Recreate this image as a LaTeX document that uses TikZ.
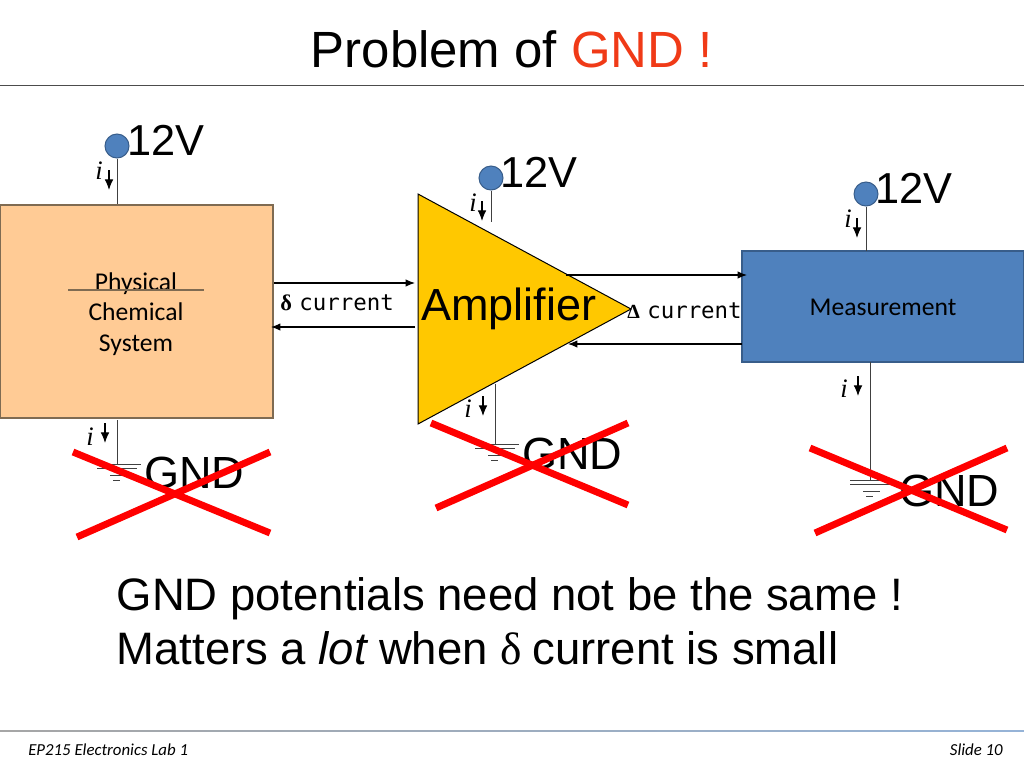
\documentclass[tikz,border=0pt]{standalone}
\usepackage{fontspec}
\setmainfont{Liberation Sans}
\newfontfamily\carlito{Carlito}
\newfontfamily\timesf{Liberation Serif}
\newfontfamily\monof{DejaVu Sans Mono}
\usetikzlibrary{arrows.meta,%
                shapes,positioning}
\definecolor{titlered}{HTML}{F03A17}
\definecolor{sysfill}{HTML}{FFCB95}
\definecolor{sysedge}{HTML}{7F6B52}
\definecolor{measfill}{HTML}{4F81BD}
\definecolor{measedge}{HTML}{385D8A}
\definecolor{ampfill}{HTML}{FFC800}
\tikzset{
  txt/.style={anchor=base west,inner sep=0pt,text=black},
  volt/.style={txt,font=\fontsize{32.5}{32.5}\selectfont},
  gndtxt/.style={txt,font=\fontsize{33.8}{33.8}\selectfont},
  small/.style={anchor=base,inner sep=0pt,font=\carlito\fontsize{19.2}{19.2}\selectfont},
  foot/.style={inner sep=0pt,font=\carlito\itshape\fontsize{12.6}{12.6}\selectfont},
  cur/.style={txt,font=\monof\fontsize{16.8}{16.8}\selectfont},
  isym/.style={inner sep=0pt,font=\timesf\itshape\fontsize{20}{20}\selectfont},
  rail/.style={circle,draw=measedge,fill=measfill,line width=0.75pt,minimum size=18pt,inner sep=0pt},
  wire/.style={draw=black!75,line width=0.75pt},
  sig/.style={draw=black,line width=0.8pt,-{Latex[length=7pt,width=5.5pt]}},
  idir/.style={draw=black,line width=0.8pt,-{Latex[length=8pt,width=6.5pt]}},
  cross/.style={draw=red,line width=5.2pt}
}
\newcommand{\GndSym}[1]{%
  \draw[wire] ([shift={(-20,0)}]#1) -- ([shift={(24,0)}]#1);
  \draw[wire] ([shift={(-20,4)}]#1) -- ([shift={(20,4)}]#1);
  \draw[wire] ([shift={(-7,11)}]#1) -- ([shift={(10,11)}]#1);
  \draw[wire] ([shift={(-4,16)}]#1) -- ([shift={(3,16)}]#1);
}
\begin{document}
\begin{tikzpicture}[x=0.75pt,y=-0.75pt]
\useasboundingbox (0,0) rectangle (1024,768);
% header and footer
\node[txt,font=\fontsize{38.2}{38.2}\selectfont] (title) at (310.5,67) {Problem of \textcolor{titlered}{GND !}};
\coordinate (ruleL) at (0,85);
\coordinate (ruleR) at (1024,85);
\draw[draw=black!70,line width=0.75pt] (ruleL) -- (ruleR);
\shade[left color=black!35,middle color=measfill,right color=measfill!60] (0,730.4) rectangle (1024,731.8);
\node[foot,anchor=base west] (footL) at (28,755) {EP215 Electronics Lab 1};
\node[foot,anchor=base east] (footR) at (1003,755) {Slide 10};
% blocks
\node[draw=sysedge,fill=sysfill,line width=1pt,minimum width=273*0.75pt,minimum height=213*0.75pt,inner sep=0pt] (sys) at (136.5,311.5) {};
\node[draw=measedge,fill=measfill,line width=1pt,minimum width=282*0.75pt,minimum height=111*0.75pt,inner sep=0pt] (meas) at (883,306.5) {};
\coordinate (ampA) at (418,194);
\coordinate (ampB) at (631,309);
\coordinate (ampC) at (418,424);
\draw[draw=black,fill=ampfill,line width=0.75pt] (ampA) -- (ampB) -- (ampC) -- cycle;
\node[small] (phys) at (136,290) {Physical};
\node[small] (chem) at (136,320.5) {Chemical};
\node[small] (syst) at (136,351.5) {System};
\coordinate (barL) at (68,290);
\coordinate (barR) at (204,290);
\draw[draw=sysedge,line width=1pt] (barL) -- (barR);
\node[small] (measl) at (883,315) {Measurement};
\node[txt,font=\fontsize{33.75}{33.75}\selectfont] (ampl) at (421,320) {Amplifier};
% signal arrows
\coordinate (s1a) at (274,283);
\coordinate (s1b) at (415,283);
\coordinate (s2a) at (415,327);
\coordinate (s2b) at (271,327);
\coordinate (m1a) at (566,275);
\coordinate (m1b) at (747,275);
\coordinate (m2a) at (742,344);
\coordinate (m2b) at (568,344);
\draw[sig] (s1a) -- (s1b);
\draw[sig] (s2a) -- (s2b);
\draw[sig] (m1a) -- (m1b);
\draw[sig] (m2a) -- (m2b);
\node[cur] (dcur) at (280,310) {{\timesf\bfseries δ}\hspace{-4.5pt} current};
\node[cur] (Dcur) at (627,318) {{\timesf\bfseries\fontsize{15}{15}\selectfont Δ}\hspace{-4.5pt} current};
% supply rails
\node[rail] (r1) at (117,146) {};
\node[rail] (r2) at (491,178) {};
\node[rail] (r3) at (866,194) {};
\node[volt] (v1) at (127,155) {12V};
\node[volt] (v2) at (500,187) {12V};
\node[volt] (v3) at (875,203) {12V};
\coordinate (t1) at (117,204);
\coordinate (t2) at (491,222);
\coordinate (t3) at (866,251);
\draw[wire] (r1) -- (t1);
\draw[wire] (r2) -- (t2);
\draw[wire] (r3) -- (t3);
% grounds
\coordinate (b1) at (117,420);
\coordinate (b2) at (495,384);
\coordinate (b3) at (870,362);
\coordinate (g1) at (117,464);
\coordinate (g2) at (495,444);
\coordinate (g3) at (870,480);
\draw[wire] (b1) -- (g1);
\draw[wire] (b2) -- (g2);
\draw[wire] (b3) -- (g3);
\GndSym{g1}
\GndSym{g2}
\GndSym{g3}
\node[gndtxt] (gl1) at (144,488) {GND};
\node[gndtxt] (gl2) at (522,469) {GND};
\node[gndtxt] (gl3) at (899,506) {GND};
% current marks
\node[isym] (i1) at (99,171) {i};
\node[isym] (i2) at (473,203) {i};
\node[isym] (i3) at (848,219) {i};
\node[isym] (i4) at (90,437) {i};
\node[isym] (i5) at (468,409) {i};
\node[isym] (i6) at (844,389) {i};
\coordinate (a1a) at (109,170);
\coordinate (a1b) at (109,190);
\coordinate (a2a) at (482,201);
\coordinate (a2b) at (482,221);
\coordinate (a3a) at (857,218);
\coordinate (a3b) at (857,238);
\coordinate (a4a) at (105,423);
\coordinate (a4b) at (105,443);
\coordinate (a5a) at (483,396);
\coordinate (a5b) at (483,416);
\coordinate (a6a) at (858,376);
\coordinate (a6b) at (858,396);
\draw[idir] (a1a) -- (a1b);
\draw[idir] (a2a) -- (a2b);
\draw[idir] (a3a) -- (a3b);
\draw[idir] (a4a) -- (a4b);
\draw[idir] (a5a) -- (a5b);
\draw[idir] (a6a) -- (a6b);
% crosses
\coordinate (x1a) at (73,452);
\coordinate (x1b) at (270,533);
\coordinate (x1c) at (77,537);
\coordinate (x1d) at (270,452);
\coordinate (x2a) at (431,423);
\coordinate (x2b) at (628,505);
\coordinate (x2c) at (436,508);
\coordinate (x2d) at (628,423);
\coordinate (x3a) at (810,448);
\coordinate (x3b) at (1007,530);
\coordinate (x3c) at (815,533);
\coordinate (x3d) at (1007,448);
\draw[cross] (x1a) -- (x1b);
\draw[cross] (x1c) -- (x1d);
\draw[cross] (x2a) -- (x2b);
\draw[cross] (x2c) -- (x2d);
\draw[cross] (x3a) -- (x3b);
\draw[cross] (x3c) -- (x3d);
% remarks
\node[txt,font=\fontsize{34.1}{34.1}\selectfont] (note1) at (116.5,610.5) {GND potentials need not be the same !};
\node[txt,font=\fontsize{34.1}{34.1}\selectfont] (note2) at (116.5,664.5) {Matters a \textit{lot}\hspace{-1.5pt} when {\timesf δ}\hspace{-1.5pt} current is small};
\end{tikzpicture}
\end{document}
